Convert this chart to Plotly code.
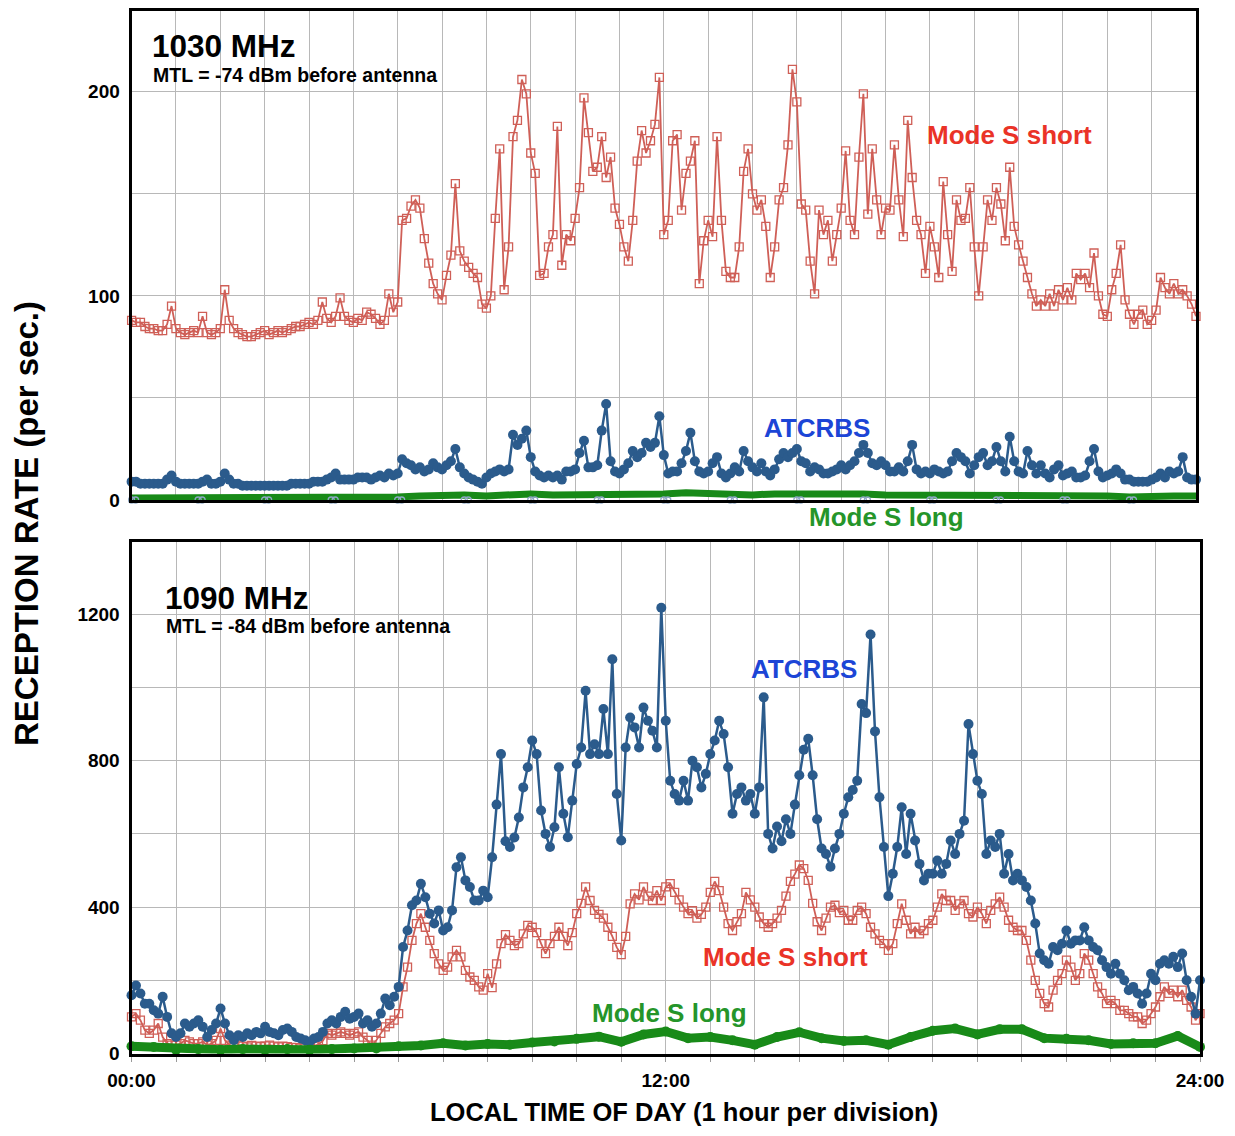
import plotly.graph_objects as go

# page is rendered inside the default 8px body margin
PAGE_W, PAGE_H = 1235, 1136
OFF = 8
W, H = PAGE_W - 2 * OFF, PAGE_H - 2 * OFF
FONT = "Liberation Sans, Arial, Helvetica, sans-serif"

# time grids (hours of day)
hours = [i / 10 for i in range(241)]
hours_coarse = [i / 2 for i in range(49)]

# ---------------- 1030 MHz ----------------
s1030 = [
    88, 87, 87, 85, 84, 84, 83, 83, 86, 95,
    84, 82, 81, 82, 83, 82, 90, 82, 81, 82,
    84, 103, 88, 84, 82, 81, 80, 80, 81, 82,
    83, 81, 82, 83, 82, 83, 84, 85, 85, 86,
    87, 86, 88, 97, 89, 87, 90, 99, 90, 88,
    87, 89, 88, 92, 91, 89, 86, 88, 101, 92,
    97, 137, 138, 144, 147, 143, 128, 116, 106, 101,
    98, 110, 120, 155, 122, 117, 114, 111, 109, 96,
    94, 100, 138, 172, 103, 124, 178, 186, 206, 199,
    170, 160, 110, 111, 124, 130, 183, 115, 130, 127,
    138, 153, 197, 180, 161, 163, 178, 158, 168, 143,
    135, 124, 117, 137, 166, 181, 170, 176, 184, 207,
    130, 137, 176, 179, 142, 160, 166, 176, 106, 127,
    137, 129, 178, 137, 112, 109, 109, 124, 161, 172,
    150, 142, 147, 134, 109, 124, 147, 153, 174, 211,
    195, 145, 142, 117, 101, 142, 130, 137, 117, 130,
    143, 171, 137, 130, 168, 199, 140, 172, 147, 130,
    143, 142, 174, 147, 129, 186, 158, 137, 130, 111,
    134, 124, 109, 156, 130, 112, 147, 137, 138, 153,
    124, 100, 124, 147, 137, 153, 145, 127, 163, 134,
    125, 117, 109, 101, 95, 98, 95, 101, 95, 103,
    98, 104, 98, 111, 108, 111, 104, 121, 100, 91,
    90, 103, 111, 125, 98, 91, 86, 91, 93, 86,
    88, 93, 109, 104, 101, 106, 101, 103, 100, 96,
    90,
]

a1030 = [
    9, 9, 8, 8, 8, 8, 8, 8, 10, 12,
    9, 8, 8, 8, 8, 8, 9, 10, 8, 8,
    9, 13, 10, 8, 8, 7, 7, 7, 7, 7,
    7, 7, 7, 7, 7, 7, 8, 8, 8, 8,
    8, 9, 9, 9, 10, 11, 13, 10, 10, 10,
    10, 11, 11, 11, 10, 11, 12, 11, 13, 12,
    13, 20, 18, 17, 15, 16, 14, 15, 18, 16,
    15, 17, 19, 25, 16, 13, 11, 10, 9, 8,
    11, 13, 14, 15, 14, 15, 32, 27, 30, 34,
    21, 14, 12, 11, 12, 11, 12, 10, 14, 14,
    15, 23, 29, 16, 16, 17, 34, 47, 19, 14,
    13, 15, 18, 24, 21, 23, 28, 26, 28, 41,
    22, 13, 14, 14, 18, 24, 33, 19, 14, 13,
    14, 18, 21, 13, 11, 13, 16, 14, 24, 19,
    16, 14, 18, 14, 12, 15, 20, 23, 21, 23,
    25, 19, 18, 14, 16, 15, 13, 13, 14, 15,
    17, 15, 17, 19, 23, 27, 23, 18, 17, 19,
    17, 14, 14, 16, 14, 19, 27, 15, 13, 14,
    13, 15, 14, 13, 14, 19, 23, 21, 19, 13,
    17, 21, 23, 17, 19, 26, 19, 14, 31, 19,
    14, 13, 24, 17, 13, 17, 13, 11, 15, 17,
    12, 13, 14, 11, 11, 12, 19, 25, 14, 11,
    12, 13, 15, 13, 10, 10, 9, 9, 9, 9,
    10, 11, 13, 11, 14, 13, 14, 21, 11, 10,
    10,
]

l1030 = [
    1, 1, 1, 1, 1, 1, 1, 1, 1, 1,
    1, 1, 1.5, 2, 2.5, 2.5, 2, 2.5, 3, 2.5,
    2.5, 3, 3, 2.5, 3, 3.5, 3, 3, 2.5, 3,
    3, 3.5, 3, 3, 2.5, 2.5, 2.5, 2, 2, 2,
    2, 2, 2.5, 2, 2, 1.5, 2, 2, 2,
]

# small open-circle marks sitting on the zero line (1030 MHz panel)
oo_times = [0.0, 0.09, 1.5, 1.59, 3.0, 3.09, 4.5, 4.59, 6.0, 6.09, 7.5, 7.59,
            9.0, 9.09, 10.5, 10.59, 12.0, 12.09, 13.5, 13.59, 15.0, 15.09,
            16.5, 16.59, 18.0, 18.09, 19.5, 19.59, 21.0, 21.09, 22.5, 22.59]
oo_vals = [0, 0, 0, 0, 0, 0, 0, 0, 0, 0, 0, 0, 0, 0, 0, 0,
           0, 0, 0, 0, 0, 0, 0, 0, 0, 0, 0, 0, 0, 0, 0, 0]

# ---------------- 1090 MHz ----------------
s1090 = [
    100, 109, 91, 64, 55, 64, 82, 45, 27, 23,
    23, 27, 36, 32, 27, 27, 32, 23, 27, 36,
    68, 36, 23, 18, 23, 20, 18, 22, 20, 19,
    21, 23, 20, 18, 20, 19, 17, 16, 15, 16,
    16, 20, 25, 35, 55, 50, 55, 59, 55, 50,
    55, 59, 45, 36, 23, 36, 55, 73, 82, 91,
    109, 182, 236, 309, 355, 382, 345, 309, 273, 245,
    227, 236, 264, 282, 264, 227, 209, 200, 182, 173,
    218, 180, 245, 300, 325, 309, 295, 300, 327, 350,
    345, 330, 300, 273, 300, 320, 345, 320, 295, 330,
    382, 410, 455, 418, 391, 380, 370, 345, 320, 290,
    270, 320, 409, 436, 420, 455, 430, 418, 445, 418,
    455, 464, 440, 420, 400, 382, 390, 370, 380, 400,
    440, 470, 445, 400, 355, 336, 360, 382, 440, 420,
    400, 373, 355, 345, 355, 370, 391, 430, 470, 490,
    515, 505, 473, 410, 360, 336, 370, 400, 405, 385,
    391, 364, 364, 391, 400, 382, 345, 327, 309, 300,
    282, 300, 355, 409, 364, 327, 345, 327, 336, 355,
    364, 400, 436, 418, 418, 391, 409, 418, 382, 373,
    400, 382, 355, 391, 409, 427, 400, 364, 345, 336,
    336, 309, 255, 200, 164, 136, 127, 173, 200, 218,
    255, 236, 200, 218, 273, 255, 218, 182, 164, 136,
    145, 136, 118, 118, 109, 100, 100, 82, 91, 109,
    127, 155, 182, 164, 173, 155, 173, 145, 127, 91,
    109,
]

a1090 = [
    159, 186, 164, 136, 136, 118, 109, 155, 100, 55,
    45, 55, 82, 73, 82, 91, 73, 45, 64, 82,
    123, 82, 50, 36, 50, 45, 55, 50, 59, 55,
    73, 59, 55, 50, 64, 68, 59, 45, 41, 36,
    32, 41, 45, 59, 82, 91, 82, 100, 114, 95,
    100, 109, 82, 91, 73, 82, 109, 150, 132, 155,
    182, 291, 336, 405, 418, 464, 427, 382, 355, 391,
    336, 345, 391, 509, 536, 473, 455, 418, 418, 445,
    427, 536, 680, 818, 580, 564, 590, 645, 727, 782,
    855, 818, 664, 600, 564, 618, 782, 655, 591, 691,
    791, 836, 991, 818, 845, 818, 941, 818, 1077, 709,
    582, 836, 918, 891, 836, 945, 909, 882, 836, 1218,
    909, 745, 709, 691, 745, 691, 800, 782, 727, 764,
    818, 855, 909, 873, 782, 655, 709, 727, 691, 709,
    655, 727, 973, 600, 560, 620, 580, 640, 600, 680,
    760, 830, 860, 760, 640, 560, 545, 510, 560, 600,
    655, 700, 720, 745, 955, 930, 1145, 880, 700, 564,
    430, 491, 564, 673, 545, 655, 582, 518, 473, 491,
    491, 527, 491, 518, 582, 545, 600, 636, 900, 818,
    745, 709, 545, 582, 564, 600, 491, 545, 473, 491,
    473, 455, 418, 355, 273, 255, 245, 291, 282, 300,
    336, 300, 309, 309, 345, 309, 291, 282, 255, 236,
    218, 245, 218, 200, 173, 182, 164, 136, 164, 218,
    200, 245, 255, 245, 264, 236, 273, 200, 155, 109,
    200,
]

l1090 = [
    20, 18, 10, 12, 10, 12, 10, 12, 10, 12,
    14, 14, 20, 22, 28, 22, 26, 24, 30, 33,
    40, 46, 32, 52, 60, 42, 45, 36, 24, 45,
    58, 42, 34, 36, 24, 45, 62, 68, 52, 66,
    66, 42, 40, 36, 26, 28, 28, 48, 18,
]

assert len(s1030) == 241 and len(a1030) == 241
assert len(s1090) == 241 and len(a1090) == 241
assert len(l1030) == 49 and len(l1090) == 49
assert len(oo_times) == len(oo_vals)

# tick labels
top_tickvals = [0, 50, 100, 150, 200]
top_ticktext = ["0", "", "100", "", "200"]
bot_tickvals = [0, 200, 400, 600, 800, 1000, 1200, 1400]
bot_ticktext = ["0", "", "400", "", "800", "", "1200", ""]
hour_ticks = list(range(25))
hour_text = ["00:00" if h == 0 else "12:00" if h == 12 else "24:00" if h == 24 else "" for h in hour_ticks]

C_SHORT = "#cf5f57"
C_ATC = "#2b5b8c"
C_LONG = "#188a18"
C_OO = "#8ea7c4"
T_RED = "#ea3327"
T_BLUE = "#1c45d6"
T_GREEN = "#25952a"
GRID = "#b8b8b8"


def px_x(x):
    return min(1.0, max(0.0, (x - OFF) / W))


def px_y(y):
    return min(1.0, max(0.0, 1 - (y - OFF) / H))


fig = go.Figure()

SHORT_MARKER = dict(symbol="square-open", size=8, color=C_SHORT, line=dict(width=1.3))
ATC_MARKER = dict(symbol="circle", size=10, color=C_ATC)

# ---- top panel traces
fig.add_trace(go.Scatter(
    x=hours, y=s1030, xaxis="x", yaxis="y", mode="lines+markers",
    line=dict(color=C_SHORT, width=1.8), marker=SHORT_MARKER, cliponaxis=False))
fig.add_trace(go.Scatter(
    x=hours, y=a1030, xaxis="x", yaxis="y", mode="lines+markers",
    line=dict(color=C_ATC, width=2.5), marker=ATC_MARKER, cliponaxis=False))
fig.add_trace(go.Scatter(
    x=hours_coarse, y=l1030, xaxis="x", yaxis="y", mode="lines",
    line=dict(color=C_LONG, width=7), cliponaxis=False))
fig.add_trace(go.Scatter(
    x=oo_times, y=oo_vals, xaxis="x", yaxis="y", mode="markers",
    marker=dict(symbol="circle-open", size=6, color=C_OO, line=dict(width=1.3)),
    cliponaxis=False))

# ---- bottom panel traces
fig.add_trace(go.Scatter(
    x=hours, y=s1090, xaxis="x2", yaxis="y2", mode="lines+markers",
    line=dict(color=C_SHORT, width=1.8), marker=SHORT_MARKER, cliponaxis=False))
fig.add_trace(go.Scatter(
    x=hours, y=a1090, xaxis="x2", yaxis="y2", mode="lines+markers",
    line=dict(color=C_ATC, width=2.5), marker=ATC_MARKER, cliponaxis=False))
fig.add_trace(go.Scatter(
    x=hours_coarse, y=l1090, xaxis="x2", yaxis="y2", mode="lines+markers",
    line=dict(color=C_LONG, width=9),
    marker=dict(symbol="circle", size=10, color=C_LONG),
    cliponaxis=False))

axis_common = dict(showline=True, mirror=True, linecolor="black", linewidth=3,
                   showgrid=True, gridcolor=GRID, gridwidth=1, zeroline=False,
                   automargin=False,
                   tickfont=dict(family=FONT, size=19, color="black", weight="bold"))

fig.update_layout(
    width=W, height=H,
    margin=dict(l=0, r=0, t=0, b=0, autoexpand=False),
    paper_bgcolor="white", plot_bgcolor="white",
    showlegend=False,
    xaxis=dict(domain=[px_x(131.6), px_x(1196)], range=[0, 24], anchor="y",
               tickmode="array", tickvals=hour_ticks, showticklabels=False,
               ticks="", **axis_common),
    yaxis=dict(domain=[px_y(500), px_y(10.5)], range=[0, 239.8], anchor="x",
               tickmode="array", tickvals=top_tickvals, ticktext=top_ticktext,
               ticks="", ticklabelstandoff=5, **axis_common),
    xaxis2=dict(domain=[px_x(131.5), px_x(1200)], range=[0, 24], anchor="y2",
                tickmode="array", tickvals=hour_ticks, ticktext=hour_text,
                ticks="outside", ticklen=5, tickcolor="#9a9a9a", tickwidth=1,
                ticklabelstandoff=3, **axis_common),
    yaxis2=dict(domain=[px_y(1053.5), px_y(542)], range=[0, 1397.5], anchor="x2",
                tickmode="array", tickvals=bot_tickvals, ticktext=bot_ticktext,
                ticks="", ticklabelstandoff=5, **axis_common),
)


def label(text, x, y, size, color, xanchor="left", angle=0):
    fig.add_annotation(text=f"<b>{text}</b>", x=px_x(x), y=px_y(y),
                       xref="paper", yref="paper", xanchor=xanchor, yanchor="middle",
                       showarrow=False, textangle=angle,
                       font=dict(family=FONT, size=size, color=color))


# panel titles
label("1030 MHz", 150, 46, 31.5, "black")
label("MTL = -74 dBm before antenna", 151, 75, 19.5, "black")
label("1090 MHz", 163, 598, 31.5, "black")
label("MTL = -84 dBm before antenna", 164, 626, 19.5, "black")

# series labels
label("Mode S short", 925, 135, 26, T_RED)
label("ATCRBS", 762, 428, 26, T_BLUE)
label("Mode S long", 807, 517, 26, T_GREEN)
label("ATCRBS", 749, 669, 26, T_BLUE)
label("Mode S short", 701, 957, 26, T_RED)
label("Mode S long", 590, 1013, 26, T_GREEN)

# axis titles
label("RECEPTION RATE (per sec.)", 27, 524, 33, "black", xanchor="center", angle=-90)
label("LOCAL TIME OF DAY (1 hour per division)", 684, 1112, 25.5, "black", xanchor="center")

fig.write_html("out.html")
